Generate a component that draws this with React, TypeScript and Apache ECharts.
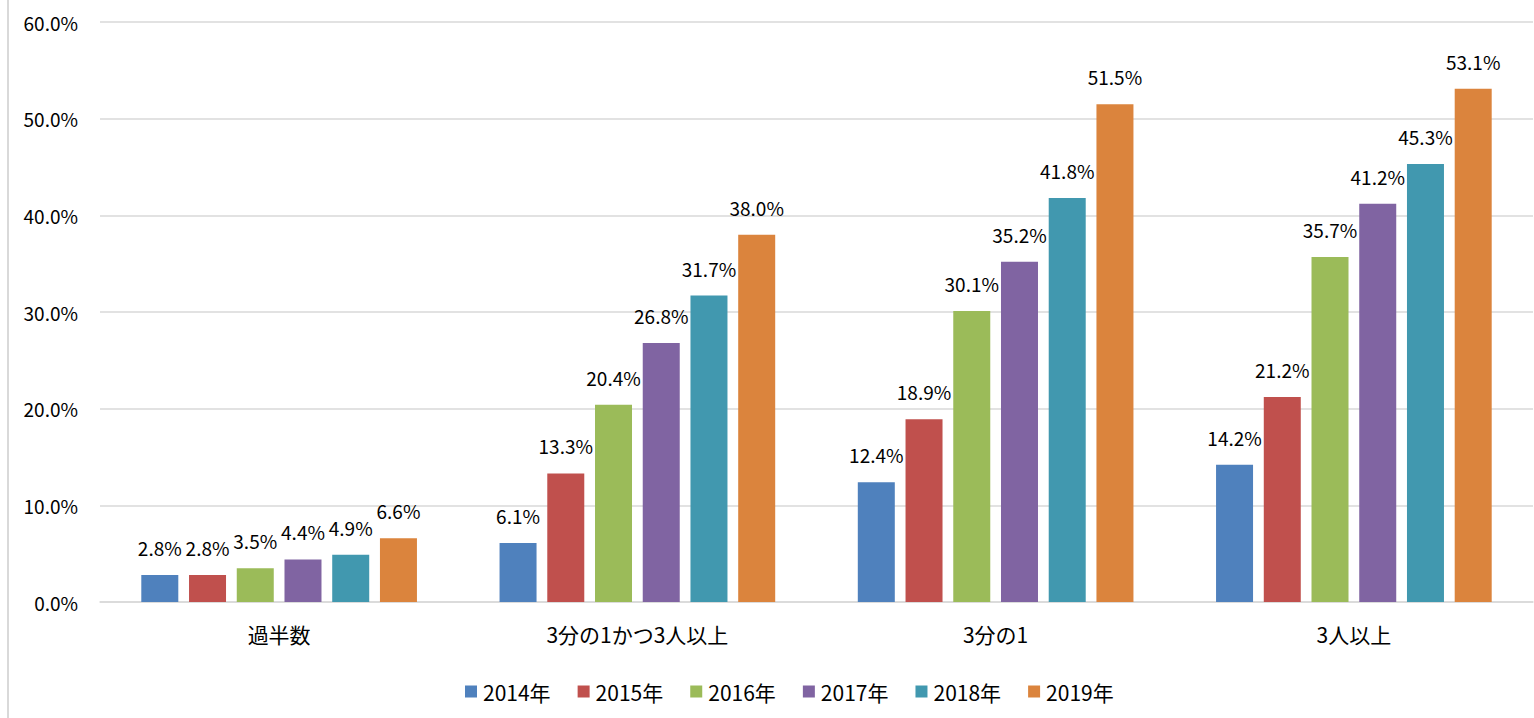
import React, { useEffect, useRef } from "react";
import * as echarts from "echarts";

const categories = ["過半数", "3分の1かつ3人以上", "3分の1", "3人以上"];
const seriesNames = ["2014年", "2015年", "2016年", "2017年", "2018年", "2019年"];
const v2014 = [2.8, 6.1, 12.4, 14.2];
const v2015 = [2.8, 13.3, 18.9, 21.2];
const v2016 = [3.5, 20.4, 30.1, 35.7];
const v2017 = [4.4, 26.8, 35.2, 41.2];
const v2018 = [4.9, 31.7, 41.8, 45.3];
const v2019 = [6.6, 38.0, 51.5, 53.1];
const seriesValues = [v2014, v2015, v2016, v2017, v2018, v2019];
const colors = ["#4F81BD", "#C0504D", "#9BBB59", "#8064A2", "#4198AF", "#DB843D"];

const FONT = "'Noto Sans CJK JP', 'Noto Sans', sans-serif";

export default function App() {
  const ref = useRef<HTMLDivElement>(null);
  useEffect(() => {
    if (!ref.current) return;
    const chart = echarts.init(ref.current, null, { renderer: "svg" });
    chart.setOption({
      animation: false,
      textStyle: { fontFamily: FONT },
      color: colors,
      grid: { left: 100, right: 1, top: 22, bottom: 116, containLabel: false },
      legend: {
        data: seriesNames,
        top: 676,
        left: 460,
        padding: 5,
        itemWidth: 12,
        itemHeight: 12,
        itemGap: 27,
        icon: "rect",
        textStyle: { fontSize: 21, color: "#000", fontFamily: FONT, padding: [0, 0, 0, 1] },
      },
      xAxis: {
        type: "category",
        data: categories,
        axisTick: { show: false },
        axisLine: { show: true, lineStyle: { color: "#d9d9d9", width: 1.5 } },
        axisLabel: { fontSize: 21, color: "#000", margin: 21, fontFamily: FONT },
      },
      yAxis: {
        type: "value",
        min: 0,
        max: 60,
        interval: 10,
        axisLine: { show: false },
        axisTick: { show: false },
        splitLine: { lineStyle: { color: "#d9d9d9", width: 1.5 } },
        axisLabel: {
          fontSize: 19,
          color: "#000",
          margin: 22,
          fontFamily: FONT,
          formatter: (v: number) => v.toFixed(1) + "%",
        },
      },
      graphic: [
        {
          type: "line",
          shape: { x1: 8, y1: 0, x2: 8, y2: 718 },
          style: { stroke: "#d9d9d9", lineWidth: 2 },
        },
      ],
      series: seriesNames.map((name, i) => ({
        name,
        type: "bar",
        data: seriesValues[i],
        barWidth: 37,
        barGap: "29%",
        itemStyle: { color: colors[i] },
        label: {
          show: true,
          position: "top",
          distance: 18,
          fontSize: 19,
          color: "#000",
          fontFamily: FONT,
          formatter: (p: any) => Number(p.value).toFixed(1) + "%",
        },
      })),
    });
    return () => chart.dispose();
  }, []);
  return (
    <div
      ref={ref}
      style={{ position: "fixed", left: 0, top: 0, width: 1534, height: 718, background: "#fff" }}
    />
  );
}
